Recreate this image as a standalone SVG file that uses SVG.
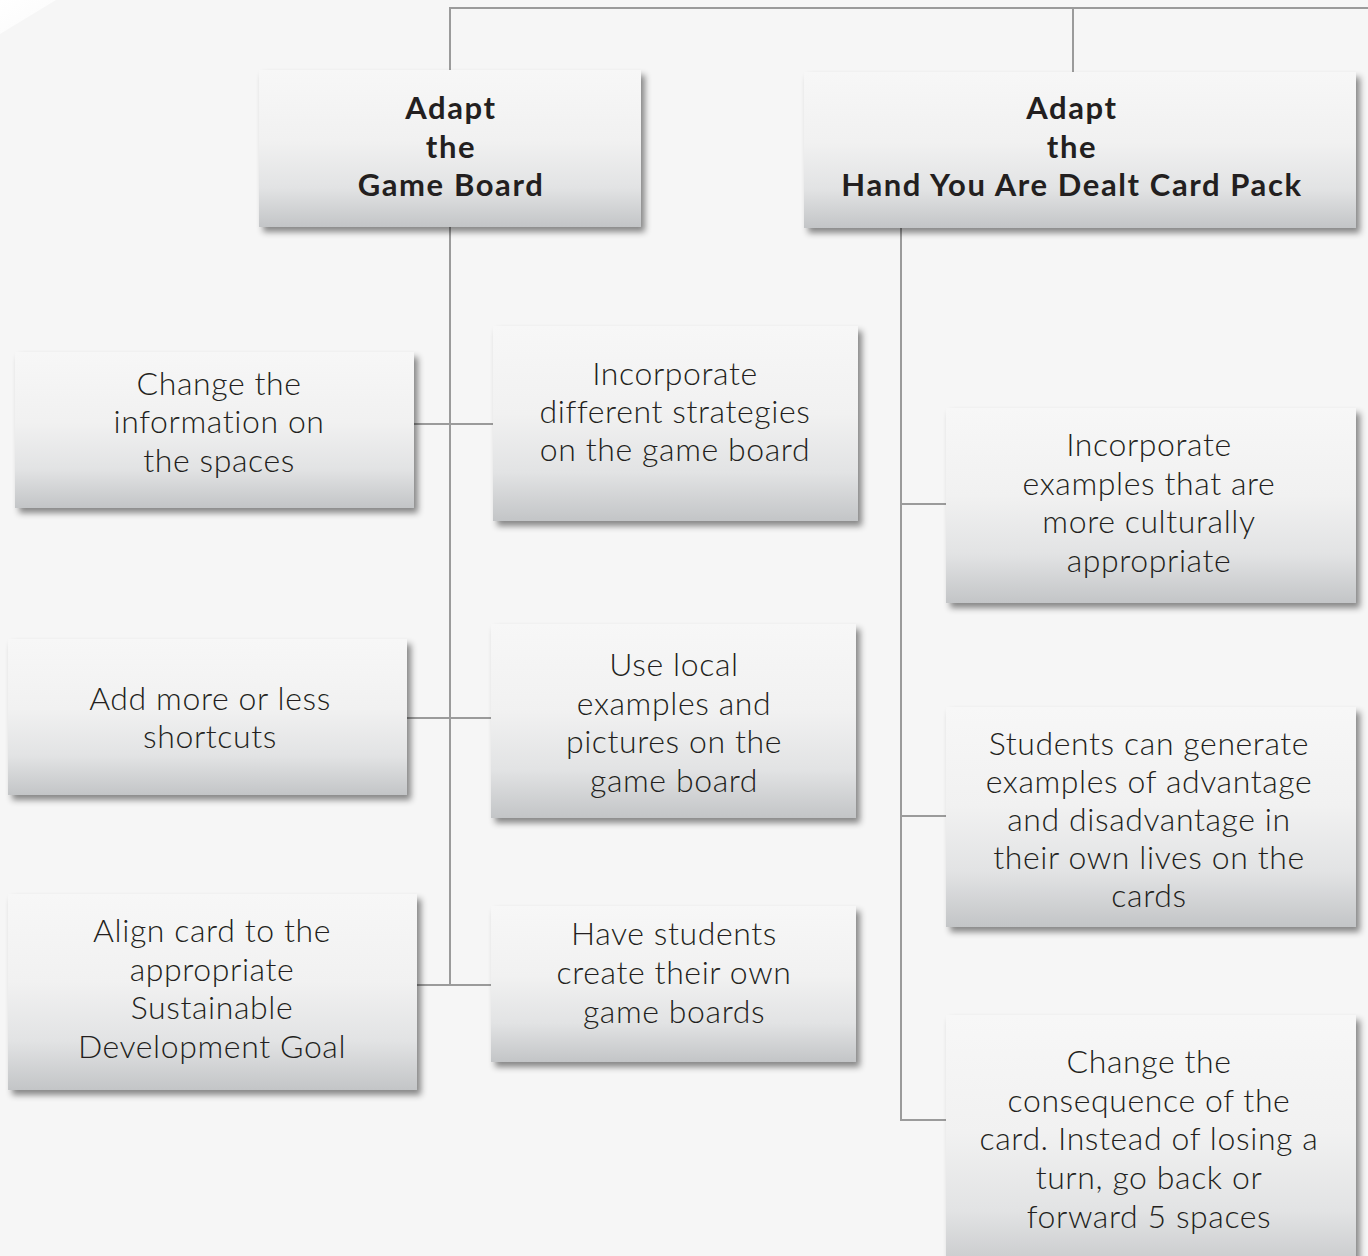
<svg xmlns="http://www.w3.org/2000/svg" width="1368" height="1256" viewBox="0 0 1368 1256">
<defs>
<linearGradient id="boxg" x1="0" y1="0" x2="0" y2="1">
<stop offset="0" stop-color="#f7f7f7"/>
<stop offset="0.45" stop-color="#f1f1f1"/>
<stop offset="0.75" stop-color="#e2e3e4"/>
<stop offset="1" stop-color="#c3c5c7"/>
</linearGradient>
<linearGradient id="curl" x1="0" y1="0" x2="1" y2="1">
<stop offset="0" stop-color="#ffffff"/>
<stop offset="0.8" stop-color="#fbfbfb"/>
<stop offset="1" stop-color="#e4e4e4"/>
</linearGradient>
<filter id="sh" x="-10%" y="-10%" width="125%" height="130%">
<feDropShadow dx="4" dy="5" stdDeviation="3" flood-color="#000" flood-opacity="0.45"/>
</filter>
</defs>
<style>
.box{fill:url(#boxg);filter:url(#sh);}
.t{font-family:Lato,"Liberation Sans",sans-serif;font-size:32px;letter-spacing:0.6px;font-weight:300;fill:#231f20;text-anchor:middle;}
.h{font-family:Lato,"Liberation Sans",sans-serif;font-size:31px;letter-spacing:1.6px;font-weight:700;fill:#231f20;text-anchor:middle;}
.c{stroke:#9b9b9b;stroke-width:2;fill:none;}
</style>
<rect x="0" y="0" width="1368" height="1256" fill="#f6f6f6"/>
<path d="M0,0 L56,0 L0,34 Z" fill="url(#curl)"/>
<g id="connectors">
<path class="c" d="M450,70 V8 H1368"/>
<path class="c" d="M1073,8 V72"/>
<path class="c" d="M450,227 V985"/>
<path class="c" d="M414,424 H493"/>
<path class="c" d="M407,718 H491"/>
<path class="c" d="M417,985 H491"/>
<path class="c" d="M901,228 V1120 H946"/>
<path class="c" d="M901,504 H946"/>
<path class="c" d="M901,816 H946"/>
</g>
<g id="game-board">
<rect class="box" x="259" y="70" width="382" height="157"/>
<text class="h" x="451" y="119">Adapt</text>
<text class="h" x="451" y="158">the</text>
<text class="h" x="451" y="196">Game Board</text>
</g>
<g id="card-pack">
<rect class="box" x="804" y="72" width="552" height="156"/>
<text class="h" x="1072" y="119">Adapt</text>
<text class="h" x="1072" y="158">the</text>
<text class="h" x="1072" y="196">Hand You Are Dealt Card Pack</text>
</g>
<g id="change-info">
<rect class="box" x="15" y="352" width="399" height="156"/>
<text class="t" x="219" y="395">Change the</text>
<text class="t" x="219" y="433">information on</text>
<text class="t" x="219" y="472">the spaces</text>
</g>
<g id="strategies">
<rect class="box" x="493" y="326" width="365" height="195"/>
<text class="t" x="675" y="385">Incorporate</text>
<text class="t" x="675" y="423">different strategies</text>
<text class="t" x="675" y="461">on the game board</text>
</g>
<g id="shortcuts">
<rect class="box" x="8" y="639" width="399" height="156"/>
<text class="t" x="210" y="710">Add more or less</text>
<text class="t" x="210" y="748">shortcuts</text>
</g>
<g id="local-examples">
<rect class="box" x="491" y="624" width="365" height="194"/>
<text class="t" x="674" y="676">Use local</text>
<text class="t" x="674" y="715">examples and</text>
<text class="t" x="674" y="753">pictures on the</text>
<text class="t" x="674" y="792">game board</text>
</g>
<g id="align-card">
<rect class="box" x="8" y="894" width="409" height="196"/>
<text class="t" x="212" y="942">Align card to the</text>
<text class="t" x="212" y="981">appropriate</text>
<text class="t" x="212" y="1019">Sustainable</text>
<text class="t" x="212" y="1058">Development Goal</text>
</g>
<g id="students-boards">
<rect class="box" x="491" y="906" width="365" height="156"/>
<text class="t" x="674" y="945">Have students</text>
<text class="t" x="674" y="984">create their own</text>
<text class="t" x="674" y="1023">game boards</text>
</g>
<g id="cultural">
<rect class="box" x="946" y="408" width="410" height="195"/>
<text class="t" x="1149" y="456">Incorporate</text>
<text class="t" x="1149" y="495">examples that are</text>
<text class="t" x="1149" y="533">more culturally</text>
<text class="t" x="1149" y="572">appropriate</text>
</g>
<g id="students-generate">
<rect class="box" x="946" y="707" width="410" height="220"/>
<text class="t" x="1149" y="755">Students can generate</text>
<text class="t" x="1149" y="793">examples of advantage</text>
<text class="t" x="1149" y="831">and disadvantage in</text>
<text class="t" x="1149" y="869">their own lives on the</text>
<text class="t" x="1149" y="907">cards</text>
</g>
<g id="consequence">
<rect class="box" x="946" y="1015" width="410" height="262"/>
<text class="t" x="1149" y="1073">Change the</text>
<text class="t" x="1149" y="1112">consequence of the</text>
<text class="t" x="1149" y="1150">card. Instead of losing a</text>
<text class="t" x="1149" y="1189">turn, go back or</text>
<text class="t" x="1149" y="1228">forward 5 spaces</text>
</g>
</svg>
